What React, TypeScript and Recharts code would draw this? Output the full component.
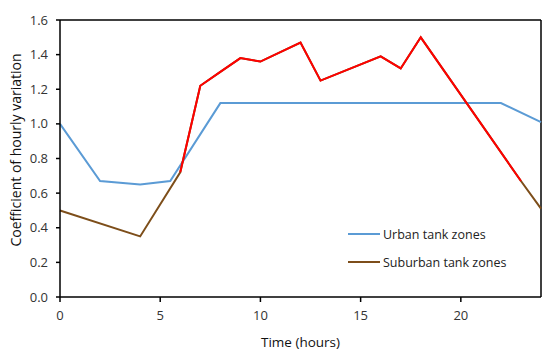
import React from "react";
import {
  LineChart,
  Line,
  XAxis,
  YAxis,
  ReferenceLine,
  Label,
} from "recharts";

// hours at which either curve has a reading
const hours = [0, 2, 4, 5.5, 6, 7, 8, 9, 10, 12, 13, 16, 17, 18, 22, 23, 24];
const urban = [1.0, 0.67, 0.65, 0.67, null, null, 1.12, null, null, null, null, null, null, null, 1.12, null, 1.01];
const suburban = [0.5, null, 0.35, null, 0.72, 1.22, 1.3, 1.38, 1.36, 1.47, 1.25, 1.39, 1.32, 1.5, null, 0.67, 0.51];
// daytime stretch of the suburban curve, drawn in red over the brown line
const suburbanDay = [null, null, null, null, 0.72, 1.22, 1.3, 1.38, 1.36, 1.47, 1.25, 1.39, 1.32, 1.5, null, 0.67, null];

const xTicks = [0, 5, 10, 15, 20];
const yTicks = [0, 0.2, 0.4, 0.6, 0.8, 1.0, 1.2, 1.4, 1.6];

const BLUE = "#5B9BD5";
const RED = "#FF0000";
const BROWN = "#7D4E1A";
const FONT = "'Open Sans', sans-serif";

const data = hours.map((t, i) => ({
  t,
  urban: urban[i],
  suburban: suburban[i],
  day: suburbanDay[i],
}));

const legendItems = [
  { name: "Urban tank zones", color: BLUE },
  { name: "Suburban tank zones", color: BROWN },
];

const YTitle = () => (
  <text
    x={15}
    y={150}
    transform="rotate(-90, 15, 150)"
    textAnchor="middle"
    dominantBaseline="central"
    style={{ fontFamily: FONT, fontSize: 14, fill: "#111" }}
  >
    Coefficient of hourly variation
  </text>
);

export default function App() {
  return (
    <div style={{ position: "absolute", left: 0, top: 0, width: 550, height: 353, background: "#fff" }}>
      <LineChart
        width={550}
        height={353}
        data={data}
        margin={{ top: 20, right: 9, bottom: 6, left: 0 }}
      >
        <XAxis
          dataKey="t"
          type="number"
          domain={[0, 24]}
          ticks={xTicks}
          tickSize={5}
          tickMargin={9}
          tick={{ fontSize: 13, fill: "#333", fontFamily: FONT }}
          axisLine={{ stroke: "#000", strokeWidth: 1.5 }}
          tickLine={{ stroke: "#000", strokeWidth: 1.5 }}
          height={50}
        >
          <Label
            value="Time (hours)"
            position="insideBottom"
            offset={0}
            style={{ fontSize: 13.5, fill: "#111", fontFamily: FONT }}
          />
        </XAxis>
        <YAxis
          type="number"
          domain={[0, 1.6]}
          ticks={yTicks}
          tickFormatter={(v: number) => v.toFixed(1)}
          tickSize={4}
          tickMargin={8}
          tick={{ fontSize: 13, fill: "#333", fontFamily: FONT }}
          axisLine={{ stroke: "#000", strokeWidth: 1.5 }}
          tickLine={{ stroke: "#000", strokeWidth: 1.5 }}
          width={60}
        >
          <Label content={<YTitle />} />
        </YAxis>
        <ReferenceLine y={1.6} stroke="#000" strokeWidth={1.5} />
        <ReferenceLine x={24} stroke="#000" strokeWidth={1.5} />
        <Line
          dataKey="urban"
          stroke={BLUE}
          strokeWidth={2}
          dot={false}
          connectNulls
          isAnimationActive={false}
        />
        <Line
          dataKey="suburban"
          stroke={BROWN}
          strokeWidth={2}
          dot={false}
          connectNulls
          isAnimationActive={false}
        />
        <Line
          dataKey="day"
          stroke={RED}
          strokeWidth={2}
          dot={false}
          connectNulls
          isAnimationActive={false}
        />
      </LineChart>
      {/* legend sits inside the plot, lower right */}
      <div
        style={{
          position: "absolute",
          left: 348,
          top: 220,
          fontFamily: FONT,
          fontSize: 12.5,
          color: "#222",
        }}
      >
        {legendItems.map((it) => (
          <div key={it.name} style={{ display: "flex", alignItems: "center", height: 28 }}>
            <span style={{ width: 32, height: 2, backgroundColor: it.color, marginRight: 3 }} />
            {it.name}
          </div>
        ))}
      </div>
    </div>
  );
}
